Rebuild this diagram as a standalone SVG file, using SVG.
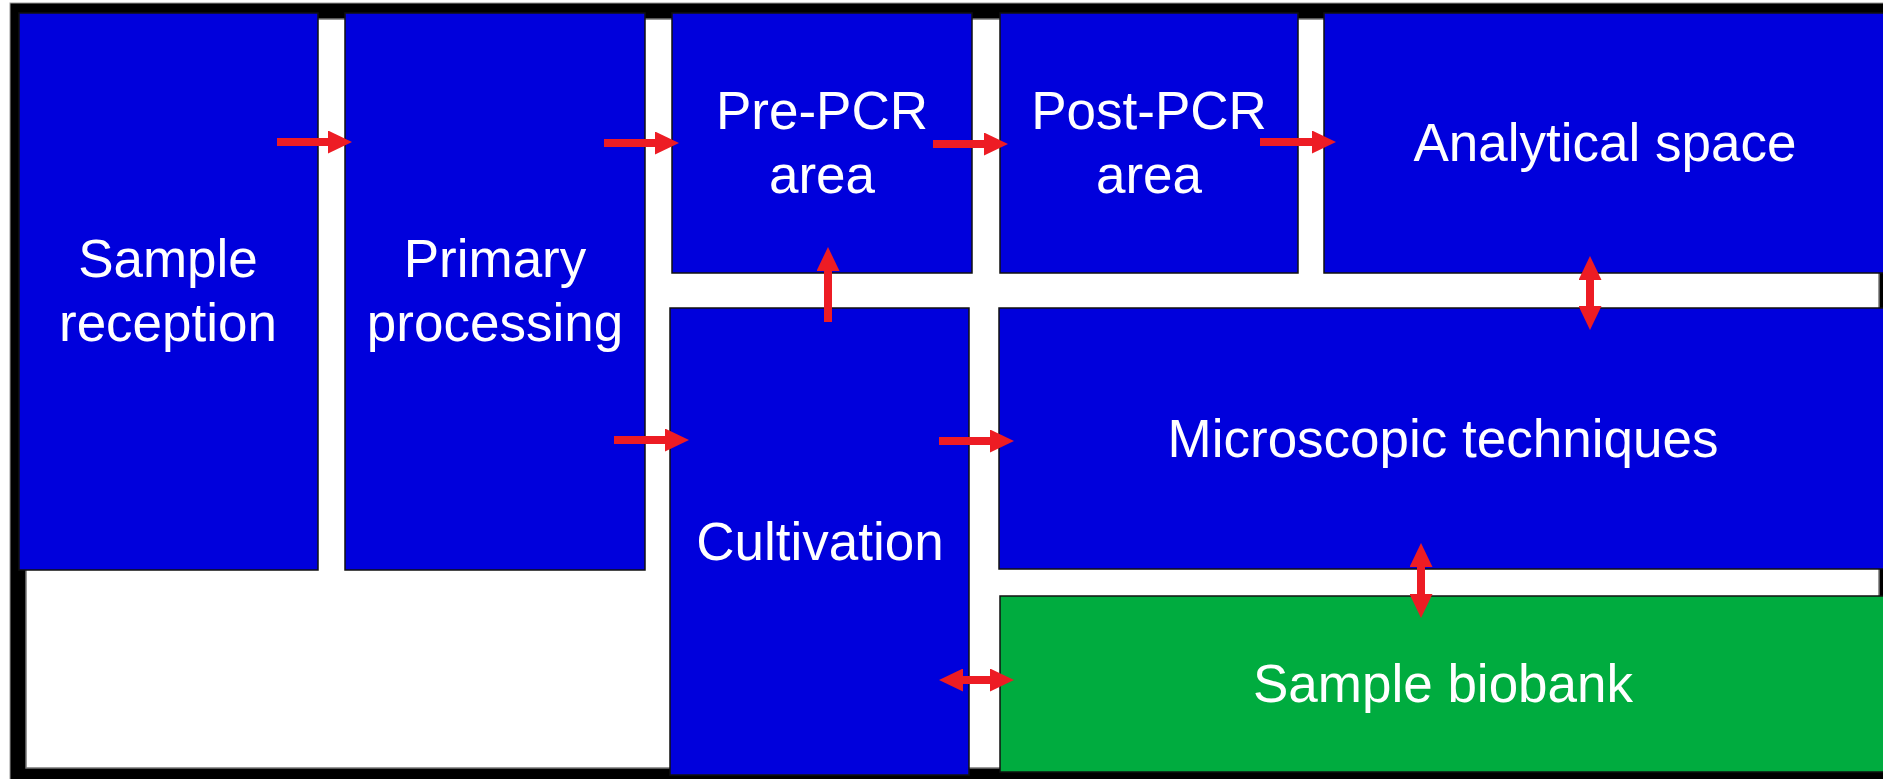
<svg xmlns="http://www.w3.org/2000/svg" width="1883" height="779" viewBox="0 0 1883 779">
  <style>
    .room { fill: #0000DC; stroke: #111; stroke-width: 1.5; }
    .bank { fill: #00AC3F; stroke: #111; stroke-width: 1.5; }
    .label { font-family: "Liberation Sans", Arial, sans-serif; font-size: 53px; fill: #FFFFFF; text-anchor: middle; }
    .flow { stroke: #ED1C24; stroke-width: 8; fill: none; }
  </style>
  <defs>
    <marker id="head" viewBox="0 0 24 23" refX="1" refY="11.5" markerWidth="24" markerHeight="23" markerUnits="userSpaceOnUse" orient="auto-start-reverse">
      <path d="M0,0 L24,11.5 L0,23 Z" fill="#ED1C24"/>
    </marker>
  </defs>

  <!-- building outline: black wall with white corridor floor -->
  <rect x="10" y="3" width="1880" height="780" fill="#000" stroke="#999" stroke-width="1"/>
  <rect x="26" y="19" width="1853" height="749" fill="#FFF" stroke="#777" stroke-width="1.5"/>

  <g id="sample-reception">
    <rect class="room" x="19" y="13" width="299" height="557"/>
    <text class="label" x="168" y="277">Sample</text>
    <text class="label" x="168" y="341">reception</text>
  </g>

  <g id="primary-processing">
    <rect class="room" x="345" y="13" width="300" height="557"/>
    <text class="label" x="495" y="277">Primary</text>
    <text class="label" x="495" y="341">processing</text>
  </g>

  <g id="pre-pcr">
    <rect class="room" x="672" y="13" width="300" height="260"/>
    <text class="label" x="822" y="129">Pre-PCR</text>
    <text class="label" x="822" y="193">area</text>
  </g>

  <g id="post-pcr">
    <rect class="room" x="1000" y="13" width="298" height="260"/>
    <text class="label" x="1149" y="129">Post-PCR</text>
    <text class="label" x="1149" y="193">area</text>
  </g>

  <g id="analytical-space">
    <rect class="room" x="1324" y="13" width="570" height="260"/>
    <text class="label" x="1605" y="161">Analytical space</text>
  </g>

  <g id="cultivation">
    <rect class="room" x="670" y="308" width="299" height="467"/>
    <text class="label" x="820" y="560">Cultivation</text>
  </g>

  <g id="microscopic-techniques">
    <rect class="room" x="999" y="308" width="895" height="261"/>
    <text class="label" x="1443" y="457">Microscopic techniques</text>
  </g>

  <g id="sample-biobank">
    <rect class="bank" x="1000" y="596" width="894" height="176"/>
    <text class="label" x="1443" y="702">Sample biobank</text>
  </g>

  <!-- sample flow between rooms -->
  <g id="connectors">
    <line class="flow" x1="277" y1="142" x2="329" y2="142" marker-end="url(#head)"/>
    <line class="flow" x1="604" y1="143" x2="656" y2="143" marker-end="url(#head)"/>
    <line class="flow" x1="933" y1="144" x2="985" y2="144" marker-end="url(#head)"/>
    <line class="flow" x1="1260" y1="142" x2="1313" y2="142" marker-end="url(#head)"/>
    <line class="flow" x1="828" y1="322" x2="828" y2="270" marker-end="url(#head)"/>
    <line class="flow" x1="614" y1="440" x2="666" y2="440" marker-end="url(#head)"/>
    <line class="flow" x1="939" y1="441" x2="991" y2="441" marker-end="url(#head)"/>
    <line class="flow" x1="962" y1="680" x2="991" y2="680" marker-start="url(#head)" marker-end="url(#head)"/>
    <line class="flow" x1="1590" y1="279" x2="1590" y2="307" marker-start="url(#head)" marker-end="url(#head)"/>
    <line class="flow" x1="1421" y1="566" x2="1421" y2="595" marker-start="url(#head)" marker-end="url(#head)"/>
  </g>
</svg>
